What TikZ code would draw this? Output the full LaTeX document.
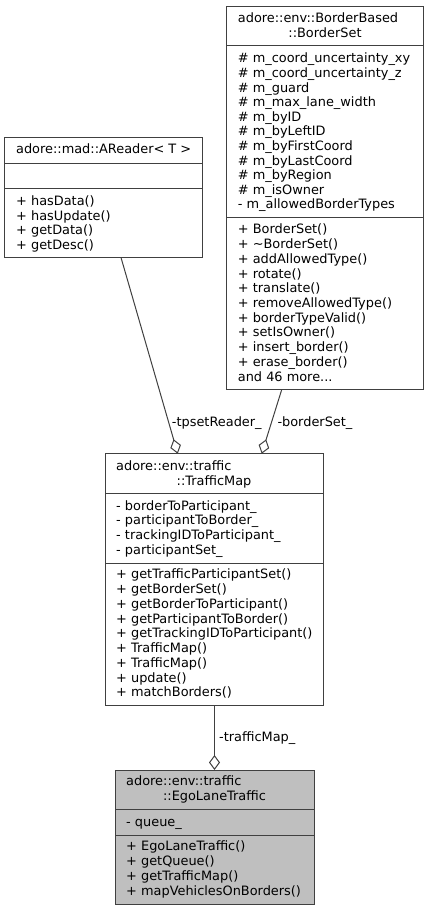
\documentclass[tikz,border=0pt]{standalone}
\usepackage{fontspec}
\setmainfont{DejaVu Sans}
\usetikzlibrary{arrows.meta,calc}
\definecolor{edgec}{HTML}{404040}
\definecolor{boxc}{HTML}{404040}
\definecolor{focusfill}{HTML}{BFBFBF}
\newcommand\dfont{\fontsize{12.9}{14.6}\selectfont}
\newcommand\moretext{and 46 more...}
\begin{document}
\begin{tikzpicture}[x=1pt,y=-1pt,
  box/.style={draw=boxc, line width=1pt, anchor=north west, inner sep=0pt, outer sep=0pt},
  divider/.style={draw=boxc, line width=1pt},
  txt/.style={anchor=base west, inner sep=0pt, font=\dfont},
  ttl/.style={anchor=base, inner sep=0pt, font=\dfont},
  lbl/.style={anchor=base west, inner sep=0pt, font=\dfont},
  agg/.style={draw=edgec, line width=1pt, -{Diamond[open,length=15pt,width=11pt,line width=1pt]}}]
\useasboundingbox (0,0) rectangle (429,911);

% ---------- AReader ----------
\node[box, minimum width=198pt, minimum height=120pt] (areader) at (4.7,137.7) {};
\draw[divider] (4.7,163.3) -- (202.7,163.3);
\draw[divider] (4.7,188.7) -- (202.7,188.7);
\node[ttl] (ar-t) at (103.7,153.8) {adore::mad::AReader< T >};
\foreach \t [count=\i from 0] in {+ hasData(), + hasUpdate(), + getData(), + getDesc()}
  \node[txt] (ar-m\i) at (16,{205.5+\i*14.5}) {\t};

% ---------- BorderSet ----------
\node[box, minimum width=196.6pt, minimum height=383.7pt] (borderset) at (226.7,6) {};
\draw[divider] (226.7,45) -- (423.3,45);
\draw[divider] (226.7,217.7) -- (423.3,217.7);
\node[txt] (bs-t1) at (237.7,22.8) {adore::env::BorderBased};
\node[ttl] (bs-t2) at (325,37.8) {::BorderSet};
\foreach \t [count=\i from 0] in {\# m\_coord\_uncertainty\_xy, \# m\_coord\_uncertainty\_z, \# m\_guard, \# m\_max\_lane\_width, \# m\_byID, \# m\_byLeftID, \# m\_byFirstCoord, \# m\_byLastCoord, \# m\_byRegion, \# m\_isOwner, - m\_allowedBorderTypes}
  \node[txt] (bs-a\i) at (237.7,{62.8+\i*14.6}) {\t};
\foreach \t [count=\i from 0] in {+ BorderSet(), + \textasciitilde BorderSet(), + addAllowedType(), + rotate(), + translate(), + removeAllowedType(), + borderTypeValid(), + setIsOwner(), + insert\_border(), + erase\_border(), \moretext}
  \node[txt] (bs-m\i) at (237.7,{233.8+\i*14.74}) {\t};

% ---------- TrafficMap ----------
\node[box, minimum width=218pt, minimum height=252pt] (trafficmap) at (105,453.7) {};
\draw[divider] (105,493.7) -- (323,493.7);
\draw[divider] (105,563) -- (323,563);
\node[txt] (tm-t1) at (116,470.2) {adore::env::traffic};
\node[ttl] (tm-t2) at (214,485.2) {::TrafficMap};
\foreach \t [count=\i from 0] in {- borderToParticipant\_, - participantToBorder\_, - trackingIDToParticipant\_, - participantSet\_}
  \node[txt] (tm-a\i) at (116,{510.2+\i*14.67}) {\t};
\foreach \t [count=\i from 0] in {+ getTrafficParticipantSet(), + getBorderSet(), + getBorderToParticipant(), + getParticipantToBorder(), + getTrackingIDToParticipant(), + TrafficMap(), + TrafficMap(), + update(), + matchBorders()}
  \node[txt] (tm-m\i) at (116,{578.8+\i*14.75}) {\t};

% ---------- EgoLaneTraffic ----------
\node[box, fill=focusfill, minimum width=199pt, minimum height=134pt] (ego) at (115,770) {};
\draw[divider] (115,809.3) -- (314,809.3);
\draw[divider] (115,835) -- (314,835);
\node[txt] (el-t1) at (126,785.5) {adore::env::traffic};
\node[ttl] (el-t2) at (214.5,800.5) {::EgoLaneTraffic};
\node[txt] (el-a0) at (126,826.8) {- queue\_};
\foreach \t [count=\i from 0] in {+ EgoLaneTraffic(), + getQueue(), + getTrafficMap(), + mapVehiclesOnBorders()}
  \node[txt] (el-m\i) at (126,{850.2+\i*15}) {\t};

% ---------- connectors ----------
\draw[agg] (areader) -- (trafficmap);
\draw[agg] ($(borderset.south)+(-43.3,0)$) -- ($(trafficmap.north)+(47.7,0)$);
\draw[agg] (ego.north |- trafficmap.south) -- (ego.north);

\node[lbl] (l-tp) at (171.7,426) {-tpsetReader\_};
\node[lbl] (l-bs) at (277.3,426) {-borderSet\_};
\node[lbl] (l-tm) at (219,741.5) {-trafficMap\_};
\end{tikzpicture}
\end{document}
